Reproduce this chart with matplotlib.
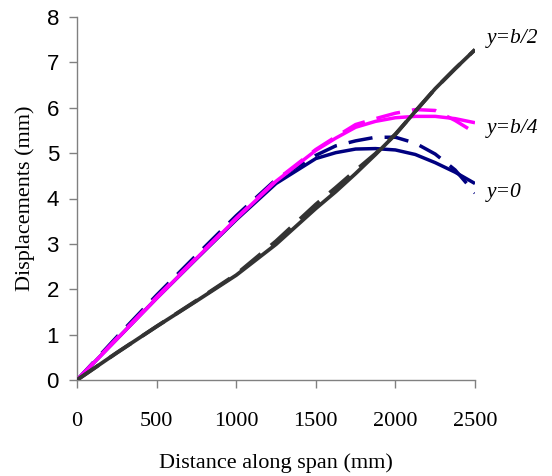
import matplotlib
matplotlib.use("Agg")
import matplotlib.pyplot as plt

# distance along span (mm) and displacement readings (mm)
span = [0, 250, 500, 750, 1000, 1250, 1500, 1625, 1750, 1875, 2000, 2125, 2250, 2375, 2500]

mid_solid = [0, 0.60, 1.18, 1.74, 2.31, 2.99, 3.78, 4.15, 4.55, 4.97, 5.41, 5.92, 6.42, 6.86, 7.28]
mid_dash = [0, 0.60, 1.18, 1.75, 2.33, 3.06, 3.87, 4.24, 4.62, 4.99, 5.42, 5.92, 6.42, 6.86, 7.28]
quarter_solid = [0, 0.90, 1.80, 2.68, 3.55, 4.38, 5.06, 5.33, 5.57, 5.70, 5.78, 5.81, 5.81, 5.76, 5.67]
quarter_dash = [0, 0.92, 1.83, 2.70, 3.57, 4.40, 5.08, 5.36, 5.63, 5.76, 5.88, 5.96, 5.94, 5.72, 5.45]
edge_solid = [0, 0.90, 1.80, 2.67, 3.53, 4.33, 4.88, 5.01, 5.09, 5.10, 5.07, 4.97, 4.79, 4.58, 4.33]
edge_dash = [0, 0.95, 1.87, 2.75, 3.62, 4.42, 4.95, 5.16, 5.27, 5.35, 5.35, 5.22, 4.98, 4.63, 4.12]

labels = ["y=b/2", "y=b/4", "y=0"]
label_y = [7.53, 5.55, 4.14]

serif = "Liberation Serif"
sans = "Liberation Sans"

fig = plt.figure(figsize=(5.52, 4.76), dpi=100)
ax = fig.add_axes([77 / 552, 96 / 476, 398 / 552, 363 / 476])

navy = "#000080"
pink = "#ff00ff"
dark = "#333333"
dash = (7, 3.5)

ax.plot(span, edge_solid, color=navy, lw=2.5, solid_capstyle="butt", zorder=2)
ax.plot(span, edge_dash, color=navy, lw=2.5, dashes=dash, zorder=2)
ax.plot(span, quarter_solid, color=pink, lw=2.5, solid_capstyle="butt", zorder=3)
ax.plot(span, quarter_dash, color=pink, lw=2.5, dashes=dash, zorder=3)
ax.plot(span, mid_solid, color=dark, lw=2.7, solid_capstyle="butt", zorder=4)
ax.plot(span, mid_dash, color=dark, lw=2.7, dashes=dash, zorder=4)

for txt, yy in zip(labels, label_y):
    ax.text(2573, yy, txt, family=serif, style="italic", fontsize=15.5,
            va="center", ha="left", clip_on=False)

ax.set_xlim(0, 2500)
ax.set_ylim(0, 8)
ax.set_xticks([0, 500, 1000, 1500, 2000, 2500])
ax.set_yticks(range(0, 9))

for side in ["top", "right"]:
    ax.spines[side].set_visible(False)
for side in ["left", "bottom"]:
    ax.spines[side].set_color("#808080")
    ax.spines[side].set_linewidth(1.0)

ax.tick_params(axis="both", direction="out", length=6, width=1.0, color="#808080")
ax.tick_params(axis="x", pad=17)
ax.tick_params(axis="y", pad=7)
for lab in ax.get_xticklabels():
    lab.set_fontfamily(serif)
    lab.set_fontsize(16)
for lab in ax.get_yticklabels():
    lab.set_fontfamily(sans)
    lab.set_fontsize(16)

ax.set_xlabel("Distance along span (mm)", family=serif, fontsize=16, labelpad=16)
ax.set_ylabel("Displacements (mm)", family=serif, fontsize=16, labelpad=8)

fig.savefig("out.png", dpi=100)
